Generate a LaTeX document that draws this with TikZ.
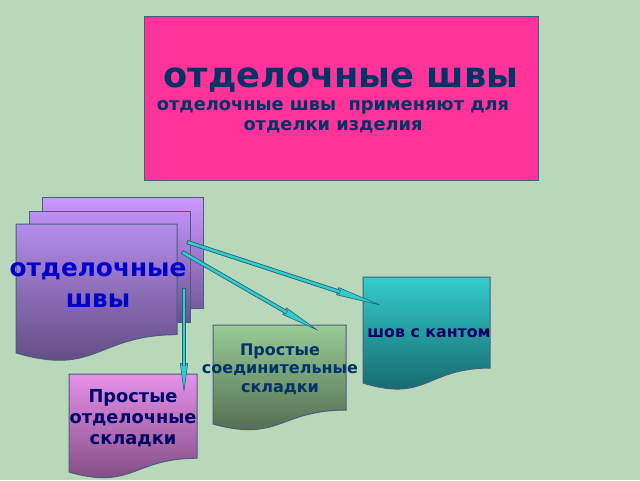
\documentclass[tikz,border=0pt]{standalone}
\usepackage{fontspec}
\setmainfont{DejaVu Sans}
\usetikzlibrary{arrows.meta,calc}
\definecolor{bg}{RGB}{185,215,185}
\definecolor{pinkbox}{RGB}{255,51,153}
\definecolor{edgec}{RGB}{70,95,125}
\definecolor{navy}{RGB}{0,51,102}
\definecolor{dnavy}{RGB}{0,0,102}
\definecolor{bluet}{RGB}{0,0,204}
\definecolor{arrdark}{RGB}{40,100,120}
\definecolor{arrcyan}{RGB}{51,204,204}
\newcommand\mydoc[5]{\path[#5] (#1,#2) -- (#3,#2) -- (#3,{#2+0.802*#4}) .. controls ({(#1+#3)/2},{#2+0.802*#4}) and ({(#1+#3)/2},{#2+1.1075*#4}) .. (#1,{#2+0.934*#4}) -- cycle;}
\tikzset{
  txt/.style={font=\bfseries, align=center, inner sep=0pt},
  headline/.style={line width=0.6pt, draw=arrdark, -{Triangle[length=#1 0 0,width=8pt 0 0,fill=arrcyan]}},
  shaftout/.style={line width=4.2pt, draw=arrdark, shorten >=#1},
  shaftin/.style={line width=2.5pt, draw=arrcyan, shorten >=#1, shorten <=0.9pt},
}
\begin{document}
\begin{tikzpicture}[x=1pt,y=-1pt]
\fill[bg] (0,0) rectangle (640,480);
\useasboundingbox (0,0) rectangle (640,480);
% title
\path[draw=edgec, line width=1pt, fill=pinkbox] (144,16) rectangle (538,180);
\node[txt, text=navy, font=\bfseries\fontsize{35.2}{37}\selectfont] (title) at (341,80) {отделочные швы};
\node[txt, text=navy, font=\bfseries\fontsize{17.8}{20}\selectfont] (sub) at (333,117) {отделочные швы\ \ применяют для\\отделки изделия};
% left stack
\path[draw=edgec, line width=1pt, top color={rgb,255:red,204;green,153;blue,255}, bottom color={rgb,255:red,120;green,90;blue,160}] (42,197) rectangle (203,308);
\path[draw=edgec, line width=1pt, top color={rgb,255:red,190;green,145;blue,245}, bottom color={rgb,255:red,105;green,80;blue,145}] (29,211) rectangle (190,322);
\mydoc{16}{224}{177}{138}{draw=edgec, line width=1pt, top color={rgb,255:red,180;green,140;blue,235}, bottom color={rgb,255:red,90;green,70;blue,120}}
\node[txt, text=bluet, font=\bfseries\fontsize{24.8}{31}\selectfont] (main) at (98,285) {отделочные\\швы};
% right docs
\mydoc{363}{277}{490}{113.5}{draw=edgec, line width=1pt, top color={rgb,255:red,51;green,204;blue,204}, bottom color={rgb,255:red,20;green,95;blue,100}}
\node[txt, text=dnavy, font=\bfseries\fontsize{15.8}{18}\selectfont] (kant) at (429,333) {шов с кантом};
\mydoc{213}{325}{346}{106}{draw=edgec, line width=1pt, top color={rgb,255:red,153;green,204;blue,150}, bottom color={rgb,255:red,75;green,100;blue,75}}
\node[txt, text=navy, font=\bfseries\fontsize{16}{18.5}\selectfont] (soed) at (280,369) {Простые\\соединительные\\складки};
\mydoc{69}{374}{197}{105}{draw=edgec, line width=1pt, top color={rgb,255:red,230;green,145;blue,235}, bottom color={rgb,255:red,120;green,70;blue,120}}
\node[txt, text=dnavy, font=\bfseries\fontsize{17.8}{21}\selectfont] (otd) at (133,418) {Простые\\отделочные\\складки};
% arrows
\coordinate (s1) at (187,242); \coordinate (e1) at (383,306);
\coordinate (s2) at (182,252); \coordinate (e2) at (319,331);
\coordinate (s3) at (184,288); \coordinate (e3) at (184,393);
\foreach \s/\e/\l in {s1/e1/48pt, s2/e2/40pt, s3/e3/30pt}{
  \draw[headline=\l] (\s) -- (\e);
  \draw[shaftout=\l-3pt] (\s) -- (\e);
  \draw[shaftin=\l-2.5pt] (\s) -- (\e);
}
\end{tikzpicture}
\end{document}
